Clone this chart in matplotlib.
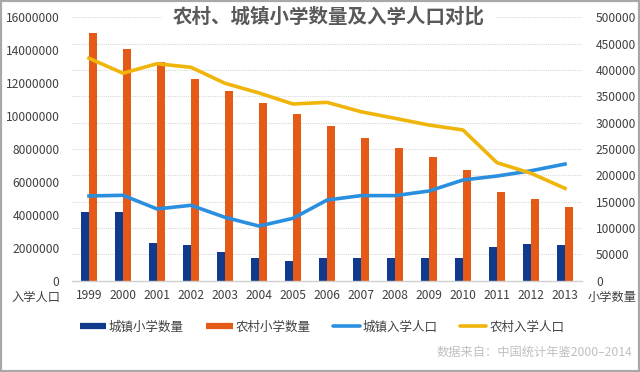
import matplotlib
matplotlib.use("Agg")
import matplotlib.pyplot as plt
from matplotlib.lines import Line2D
from matplotlib.patches import Rectangle
import numpy as np

plt.rcParams['font.family'] = ['Noto Sans CJK SC', 'DejaVu Sans']

years = ['1999', '2000', '2001', '2002', '2003', '2004', '2005', '2006',
         '2007', '2008', '2009', '2010', '2011', '2012', '2013']
urban_schools = [129600, 129600, 70700, 66900, 54200, 43300, 37000, 42200,
                 43300, 43300, 42200, 43300, 64200, 68800, 66900]
rural_schools = [469700, 439900, 415700, 383400, 360000, 336700, 316900, 294100,
                 271300, 252300, 234000, 210000, 168700, 154900, 139700]
urban_enroll = [5140000, 5180000, 4350000, 4570000, 3840000, 3310000, 3780000, 4890000,
                5160000, 5160000, 5440000, 6110000, 6350000, 6670000, 7080000]
rural_enroll = [13510000, 12600000, 13180000, 12960000, 11990000, 11400000, 10730000, 10830000,
                10260000, 9860000, 9450000, 9150000, 7160000, 6520000, 5600000]

left_ticks = list(range(0, 16000001, 2000000))
right_ticks = list(range(0, 500001, 50000))

c_ub = '#123a8c'
c_rb = '#e65a17'
c_ul = '#2b8fe0'
c_rl = '#f0b50a'
tc = '#404040'

fig = plt.figure(figsize=(6.4, 3.72), dpi=100)
fig.patch.set_facecolor('white')

ax = fig.add_axes([72/640, 1-280.5/372, 510/640, (280.5-17.3)/372])
ax2 = ax.twinx()

x = np.arange(len(years))
w = 0.24
ax.bar(x - w/2, urban_schools, width=w, color=c_ub, zorder=2)
ax.bar(x + w/2, rural_schools, width=w, color=c_rb, zorder=2)
ax.set_ylim(0, 500000)
ax.set_xlim(-0.5, len(years) - 0.5)
ax.yaxis.tick_right()
ax.yaxis.set_label_position('right')
ax.set_yticks(right_ticks)
ax.set_yticklabels([str(v) for v in right_ticks])
ax.set_axisbelow(True)
ax.grid(axis='y', color='#d8d8d8', linestyle=(0, (1, 1)), linewidth=0.8, zorder=0)
ax.set_xticks(x)
ax.set_xticklabels(years)
for s in ['top', 'left', 'right']:
    ax.spines[s].set_visible(False)
ax.spines['bottom'].set_color('#d0d0d0')
ax.spines['bottom'].set_linewidth(1.0)
ax.tick_params(axis='both', length=0, labelsize=8.7, colors=tc)
ax.tick_params(axis='y', pad=10)
ax.tick_params(axis='x', pad=6)

ax2.plot(x, urban_enroll, color=c_ul, lw=2.6, solid_joinstyle='round', zorder=3)
ax2.plot(x, rural_enroll, color=c_rl, lw=2.6, solid_joinstyle='round', zorder=3)
ax2.set_ylim(0, 16000000)
ax2.yaxis.tick_left()
ax2.yaxis.set_label_position('left')
ax2.set_yticks(left_ticks)
ax2.set_yticklabels([str(v) for v in left_ticks])
ax2.tick_params(axis='y', length=0, labelsize=8.7, colors=tc, pad=9)
for s in ax2.spines.values():
    s.set_visible(False)

fig.text(36/640, 1-297/372, '入学人口', ha='center', va='center', fontsize=8.8, color=tc)
fig.text(612/640, 1-297/372, '小学数量', ha='center', va='center', fontsize=8.8, color=tc)

fig.text(329/640, 1-17/372, '农村、城镇小学数量及入学人口对比', ha='center', va='center',
         fontsize=14, fontweight='bold', color='#595959',
         bbox=dict(facecolor='white', edgecolor='none', pad=8))

handles = [Line2D([0], [0], color=c_ub, lw=4.5, solid_capstyle='butt'),
           Line2D([0], [0], color=c_rb, lw=4.5, solid_capstyle='butt'),
           Line2D([0], [0], color=c_ul, lw=2.6, solid_capstyle='round'),
           Line2D([0], [0], color=c_rl, lw=2.6, solid_capstyle='round')]
labels = ['城镇小学数量', '农村小学数量', '城镇入学人口', '农村入学人口']
leg = fig.legend(handles, labels, ncol=4, loc='center', bbox_to_anchor=(322/640, 1-327/372),
                 frameon=False, fontsize=9, handlelength=2.1, handletextpad=0.25,
                 columnspacing=1.8)
for t in leg.get_texts():
    t.set_color(tc)

fig.text(632/640, 1-352/372, '数据来自：中国统计年鉴2000–2014', ha='right', va='center',
         fontsize=8.8, color='#c0c0c0', style='italic')

fig.patches.append(Rectangle((0, 0), 1, 1, transform=fig.transFigure, fill=False,
                             edgecolor='#a8a8a8', linewidth=3, zorder=10))

fig.savefig('out.png', dpi=100)
